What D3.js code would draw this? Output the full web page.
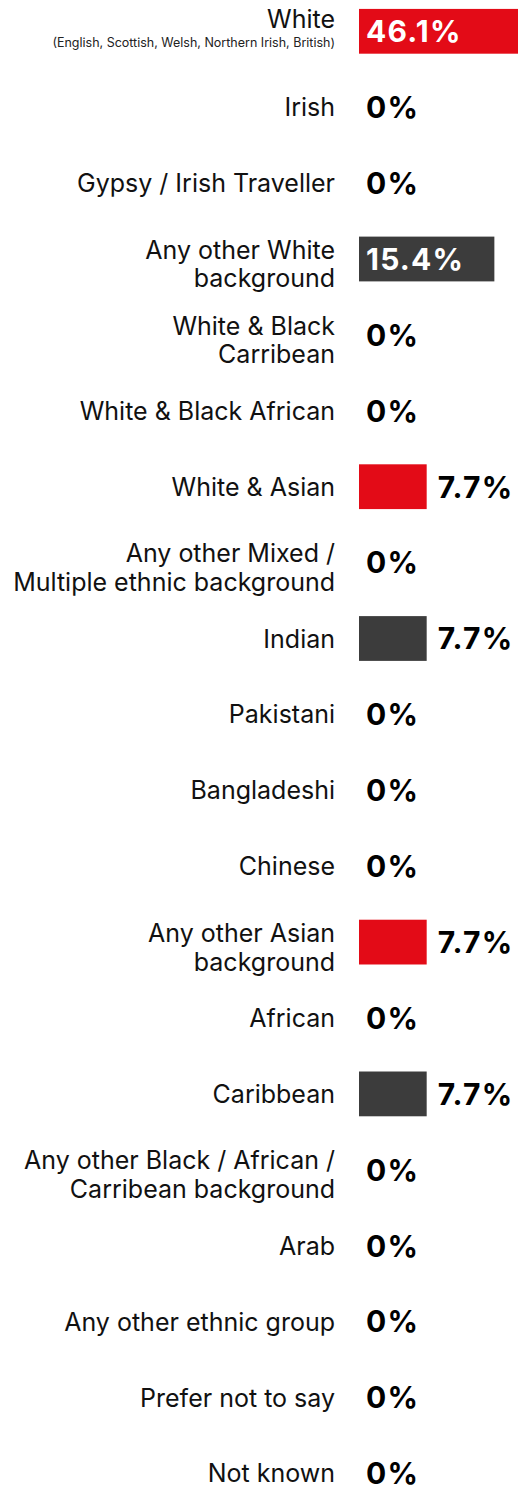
<!DOCTYPE html>
<html>
<head>
<meta charset="utf-8">
<script src="https://cdn.jsdelivr.net/npm/d3@7"></script>
<style>
  html, body { margin: 0; padding: 0; background: #fff; }
  svg { display: block; }
</style>
</head>
<body>
<svg id="chart"></svg>
<script>
// Ethnicity breakdown, percentage of respondents
const categories = [
  ["White"],
  ["Irish"],
  ["Gypsy / Irish Traveller"],
  ["Any other White", "background"],
  ["White & Black", "Carribean"],
  ["White & Black African"],
  ["White & Asian"],
  ["Any other Mixed /", "Multiple ethnic background"],
  ["Indian"],
  ["Pakistani"],
  ["Bangladeshi"],
  ["Chinese"],
  ["Any other Asian", "background"],
  ["African"],
  ["Caribbean"],
  ["Any other Black / African /", "Carribean background"],
  ["Arab"],
  ["Any other ethnic group"],
  ["Prefer not to say"],
  ["Not known"]
];
const subLabels = ["(English, Scottish, Welsh, Northern Irish, British)"];
const values = [46.1, 0, 0, 15.4, 0, 0, 7.7, 0, 7.7, 0, 0, 0, 7.7, 0, 7.7, 0, 0, 0, 0, 0];
const palette = ["#e30b17", "#3c3c3c"];

const W = 518, H = 1486;
const fontFamily = "Inter, 'Noto Sans', sans-serif";

const svg = d3.select("#chart").attr("width", W).attr("height", H);

const keys = categories.map((c, i) => i);
const step = 75.9;
const y = d3.scaleBand()
  .domain(keys)
  .range([31.3 - step / 2, 31.3 + (keys.length - 0.5) * step])
  .paddingInner(0.41)
  .paddingOuter(0.205);

const x = d3.scaleLinear().domain([0, 100]).range([359, 359 + 879]);

// Bars alternate red / dark grey among non-zero rows
let nz = 0;
const colours = values.map(v => v > 0 ? palette[(nz++) % 2] : null);

const rows = svg.selectAll("g.row")
  .data(keys)
  .join("g")
  .attr("class", "row");

rows.filter(i => values[i] > 0)
  .append("rect")
  .attr("x", x(0))
  .attr("y", i => y(i))
  .attr("width", i => x(values[i]) - x(0))
  .attr("height", y.bandwidth())
  .attr("fill", i => colours[i]);

// Category labels, right-aligned against the bar axis
const labelX = x(0) - 24;
const lineH = 28.8;
rows.each(function(i) {
  const g = d3.select(this);
  const lines = categories[i];
  const cy = y(i) + y.bandwidth() / 2;
  const sub = subLabels[i];
  if (sub) {
    g.append("text")
      .attr("x", labelX).attr("y", cy - 3.5)
      .attr("text-anchor", "end")
      .attr("font-family", fontFamily).attr("font-size", 25)
      .attr("fill", "#111")
      .text(lines[0]);
    g.append("text")
      .attr("x", labelX).attr("y", cy + 15.5)
      .attr("text-anchor", "end")
      .attr("font-family", fontFamily).attr("font-size", 12.5)
      .attr("fill", "#222")
      .text(sub);
    return;
  }
  const n = lines.length;
  const first = cy + 9 - (n - 1) * lineH / 2 + (n - 1) * 5;
  const t = g.append("text")
    .attr("text-anchor", "end")
    .attr("font-family", fontFamily).attr("font-size", 25)
    .attr("fill", "#111");
  lines.forEach((ln, k) => {
    t.append("tspan").attr("x", labelX).attr("y", first + k * lineH).text(ln);
  });
});

// Value labels: inside the bar when it fits, otherwise just past its end
const fmt = v => (v === 0 ? "0" : d3.format(".1f")(v)) + "%";
rows.append("text")
  .attr("font-family", fontFamily)
  .attr("font-weight", 700)
  .attr("font-size", 30)
  .attr("letter-spacing", 1.2)
  .attr("y", i => y(i) + y.bandwidth() / 2 + 10.8)
  .text(i => fmt(values[i]))
  .each(function(i) {
    const el = d3.select(this);
    const w = this.getComputedTextLength();
    const barW = x(values[i]) - x(0);
    if (values[i] > 0 && barW > w + 16) {
      el.attr("x", x(0) + 7).attr("fill", "#fff");
    } else if (values[i] > 0) {
      el.attr("x", x(values[i]) + 11).attr("fill", "#000");
    } else {
      el.attr("x", x(0) + 7).attr("fill", "#000");
    }
  });
</script>
</body>
</html>
